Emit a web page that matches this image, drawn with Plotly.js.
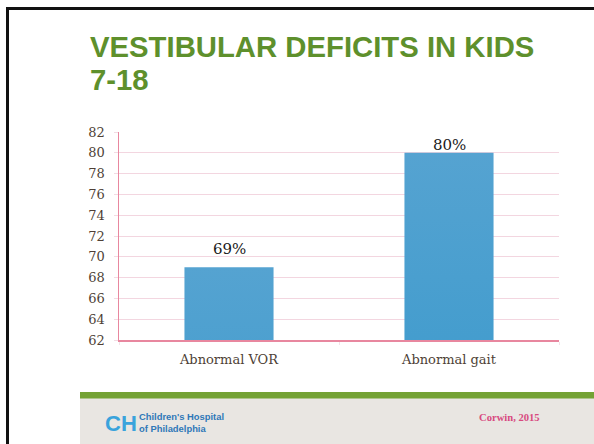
<!DOCTYPE html>
<html>
<head>
<meta charset="utf-8">
<script src="https://cdn.plot.ly/plotly-3.0.1.min.js"></script>
<style>html,body{margin:0;padding:0;background:#fff;overflow:hidden;}#chart{width:594px;height:444px;overflow:hidden;}</style>
</head>
<body>
<div id="chart"></div>
<script>
// ---- data ----
const categories = ["Abnormal VOR", "Abnormal gait"];
const values = [69, 80];
const valueLabels = ["69%", "80%"];
const yTickValues = [62, 64, 66, 68, 70, 72, 74, 76, 78, 80, 82];
const titleLines = ["VESTIBULAR DEFICITS IN KIDS", "7-18"];
const citation = "Corwin, 2015";
const logoLines = ["Children's Hospital", "of Philadelphia"];

// ---- layout geometry (pixels) ----
const W = 594, H = 444;
const M = {l: 119, r: 35, t: 132, b: 104};
const pw = W - M.l - M.r, ph = H - M.t - M.b;
const xp = px => (px - M.l) / pw;
const yp = py => (H - M.b - py) / ph;

const serif = "'DejaVu Serif', 'Liberation Serif', serif";
const timesLike = "'Liberation Serif', 'DejaVu Serif', serif";
const sans = "'Liberation Sans', Arial, sans-serif";
const labelShift = [7, -3];

const trace = {
  type: "bar",
  x: categories,
  y: values,
  marker: {color: "#3396ca", line: {width: 0}},
  hoverinfo: "none"
};

const annotations = [];
categories.forEach((c, i) => {
  annotations.push({
    x: c, y: values[i], xref: "x", yref: "y",
    text: valueLabels[i], showarrow: false,
    yanchor: "bottom", yshift: labelShift[i],
    font: {family: serif, size: 15, color: "#1a1a1a"}
  });
});
// title lines
annotations.push({
  xref: "paper", yref: "paper", x: xp(88), y: yp(47), xanchor: "left", yanchor: "middle",
  text: "<b>" + titleLines[0] + "</b>", showarrow: false,
  font: {family: sans, size: 29.3, color: "#5e902c"}
});
annotations.push({
  xref: "paper", yref: "paper", x: xp(88), y: yp(79), xanchor: "left", yanchor: "middle",
  text: "<b>" + titleLines[1] + "</b>", showarrow: false,
  font: {family: sans, size: 29.3, color: "#5e902c"}
});
// footer
annotations.push({
  xref: "paper", yref: "paper", x: xp(477), y: yp(417), xanchor: "left", yanchor: "middle",
  text: "<b>" + citation + "</b>", showarrow: false,
  font: {family: timesLike, size: 10.6, color: "#d84a7f"}
});
annotations.push({
  xref: "paper", yref: "paper", x: xp(103), y: yp(423), xanchor: "left", yanchor: "middle",
  text: "<b>CH</b>", showarrow: false,
  font: {family: sans, size: 22, color: "#3aa3dc"}
});
annotations.push({
  xref: "paper", yref: "paper", x: xp(137), y: yp(422), xanchor: "left", yanchor: "middle",
  text: "<b>" + logoLines[0] + "</b><br><b>" + logoLines[1] + "</b>", showarrow: false, align: "left",
  font: {family: sans, size: 9.4, color: "#2f78b8"}
});

const shapes = [
  // footer gray band
  {type: "rect", xref: "paper", yref: "paper", x0: xp(80), x1: xp(W), y0: yp(398), y1: yp(H),
   fillcolor: "#e9e6e2", line: {width: 0}, layer: "below"},
  // footer green stripe
  {type: "rect", xref: "paper", yref: "paper", x0: xp(80), x1: xp(W), y0: yp(392), y1: yp(398.5),
   fillcolor: "#74a234", line: {width: 0}, layer: "below"},
  // frame: left edge and top edge, open on the right
  {type: "path", xref: "paper", yref: "paper",
   path: "M" + xp(7.5) + "," + yp(H + 5) + " L" + xp(7.5) + "," + yp(8.5) + " L" + xp(W + 10) + "," + yp(8.5),
   line: {color: "#111", width: 3}}
];

const layout = {
  width: W, height: H,
  margin: M,
  paper_bgcolor: "#ffffff",
  plot_bgcolor: "#ffffff",
  showlegend: false,
  bargap: 0.595,
  xaxis: {
    type: "category",
    showline: true, linecolor: "#e8879f", linewidth: 1.5,
    ticks: "outside", tickson: "boundaries", ticklen: 3, tickcolor: "#f3e3e8",
    showgrid: false,
    tickfont: {family: serif, size: 13, color: "#4e3f36"},
    ticklabelstandoff: 7,
    fixedrange: true
  },
  yaxis: {
    range: [62, 82],
    tickvals: yTickValues,
    ticktext: yTickValues.map(String),
    showline: true, linecolor: "#e8879f", linewidth: 1.5,
    ticks: "outside", ticklen: 4, tickcolor: "#f3dbe3",
    showgrid: true, gridcolor: "#f3d6e0", gridwidth: 1,
    zeroline: false,
    tickfont: {family: serif, size: 13, color: "#4e3f36"},
    ticklabelstandoff: 6,
    fixedrange: true
  },
  annotations: annotations,
  shapes: shapes
};

Plotly.newPlot("chart", [trace], layout, {staticPlot: true, displayModeBar: false}).then(gd => {
  // vertical gradient on bars
  const svg = gd.querySelector("svg.main-svg");
  const ns = "http://www.w3.org/2000/svg";
  let defs = svg.querySelector("defs");
  if (!defs) { defs = document.createElementNS(ns, "defs"); svg.insertBefore(defs, svg.firstChild); }
  const g = document.createElementNS(ns, "linearGradient");
  g.setAttribute("id", "barGrad");
  g.setAttribute("x1", "0"); g.setAttribute("y1", "0"); g.setAttribute("x2", "0"); g.setAttribute("y2", "1");
  [["0", "#55a3d1"], ["0.45", "#3497cb"], ["1", "#1d82b8"]].forEach(([o, c]) => {
    const s = document.createElementNS(ns, "stop");
    s.setAttribute("offset", o); s.setAttribute("stop-color", c);
    g.appendChild(s);
  });
  defs.appendChild(g);
  gd.querySelectorAll(".bars .point path").forEach(p => { p.style.fill = "url(#barGrad)"; });
});
</script>
</body>
</html>
